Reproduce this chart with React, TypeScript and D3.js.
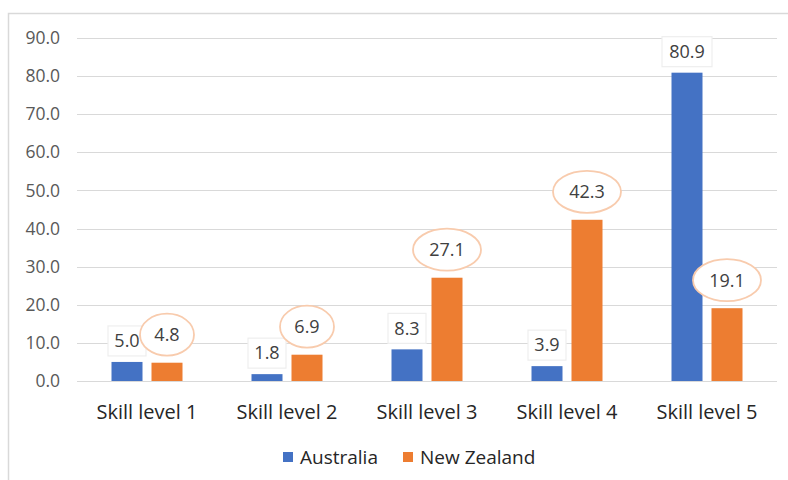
import React, { useEffect, useRef } from "react";
import * as d3 from "d3";

const categories = ["Skill level 1", "Skill level 2", "Skill level 3", "Skill level 4", "Skill level 5"];
const australia = [5.0, 1.8, 8.3, 3.9, 80.9];
const newZealand = [4.8, 6.9, 27.1, 42.3, 19.1];
const yTicks = [0, 10, 20, 30, 40, 50, 60, 70, 80, 90];
const seriesNames = ["Australia", "New Zealand"];

const W = 788;
const H = 480;
const FONT = "'Open Sans', Lato, sans-serif";

export default function App() {
  const ref = useRef<SVGSVGElement>(null);

  useEffect(() => {
    const svg = d3.select(ref.current);
    svg.selectAll("*").remove();

    const margin = { top: 38, right: 11, bottom: 99, left: 77 };
    const x = d3.scaleBand().domain(categories).range([margin.left, W - margin.right]).paddingInner(0).paddingOuter(0);
    const y = d3.scaleLinear().domain([0, 90]).range([H - margin.bottom, margin.top]);

    // chart area border
    svg.append("rect")
      .attr("x", 8.5).attr("y", 13.5)
      .attr("width", W).attr("height", H)
      .attr("fill", "#fff").attr("stroke", "#d9d9d9").attr("stroke-width", 1.5);

    // gridlines
    svg.append("g").selectAll("line").data(yTicks).join("line")
      .attr("x1", margin.left).attr("x2", W - margin.right)
      .attr("y1", (d) => Math.round(y(d)) + 0.5).attr("y2", (d) => Math.round(y(d)) + 0.5)
      .attr("stroke", "#d9d9d9").attr("stroke-width", 1.2);

    // y labels
    svg.append("g").selectAll("text").data(yTicks).join("text")
      .attr("x", 60).attr("y", (d) => y(d))
      .attr("dy", "0.35em").attr("text-anchor", "end")
      .attr("font-family", FONT).attr("font-size", 17.5).attr("fill", "#595959")
      .text((d) => d.toFixed(1));

    // x labels
    svg.append("g").selectAll("text").data(categories).join("text")
      .attr("x", (d) => x(d)! + x.bandwidth() / 2).attr("y", 412)
      .attr("dy", "0.35em").attr("text-anchor", "middle")
      .attr("font-family", FONT).attr("font-size", 20).attr("fill", "#262626")
      .text((d) => d);

    const bw = 31;
    const gap = 9;
    const colors = ["#4472c4", "#ed7d31"];
    const rows = categories.map((c, i) => ({ c, a: australia[i], n: newZealand[i] }));
    const cx = (c: string, s: number) => x(c)! + x.bandwidth() / 2 + (s === 0 ? -(gap / 2 + bw / 2) : gap / 2 + bw / 2);

    [australia, newZealand].forEach((vals, s) => {
      svg.append("g").selectAll("rect").data(rows).join("rect")
        .attr("x", (d) => cx(d.c, s) - bw / 2)
        .attr("y", (_d, i) => y(vals[i]))
        .attr("width", bw)
        .attr("height", (_d, i) => y(0) - y(vals[i]))
        .attr("fill", colors[s]);
    });

    // Australia labels in boxes
    const ag = svg.append("g").selectAll("g").data(rows).join("g")
      .attr("transform", (d) => `translate(${cx(d.c, 0)},${y(d.a) - 21})`);
    ag.append("rect")
      .attr("x", (d) => -(12 * d.a.toFixed(1).length + 2) / 2).attr("y", -15)
      .attr("width", (d) => 12 * d.a.toFixed(1).length + 2).attr("height", 30)
      .attr("fill", "#fff").attr("stroke", "#eeeeee").attr("stroke-width", 1.2);
    ag.append("text")
      .attr("text-anchor", "middle").attr("dy", "0.35em")
      .attr("font-family", FONT).attr("font-size", 18).attr("fill", "#404040")
      .text((d) => d.a.toFixed(1));

    // New Zealand labels in ellipses
    const ng = svg.append("g").selectAll("g").data(rows).join("g")
      .attr("transform", (d) => `translate(${cx(d.c, 1)},${y(d.n) - 28})`);
    ng.append("ellipse")
      .attr("rx", (d) => 6 + 7 * d.n.toFixed(1).length).attr("ry", 21)
      .attr("fill", "#fff").attr("stroke", "#f8cbad").attr("stroke-width", 1.8);
    ng.append("text")
      .attr("text-anchor", "middle").attr("dy", "0.35em")
      .attr("font-family", FONT).attr("font-size", 18).attr("fill", "#404040")
      .text((d) => d.n.toFixed(1));

    // legend
    const lx = [283, 403];
    seriesNames.forEach((name, s) => {
      svg.append("rect").attr("x", lx[s]).attr("y", 452).attr("width", 10).attr("height", 10).attr("fill", colors[s]);
      svg.append("text").attr("x", lx[s] + 17).attr("y", 457).attr("dy", "0.35em")
        .attr("font-family", FONT).attr("font-size", 19).attr("fill", "#262626").text(name);
    });
  }, []);

  return (
    <svg ref={ref} width={W} height={H} style={{ position: "absolute", left: 0, top: 0, background: "#fff" }} />
  );
}
